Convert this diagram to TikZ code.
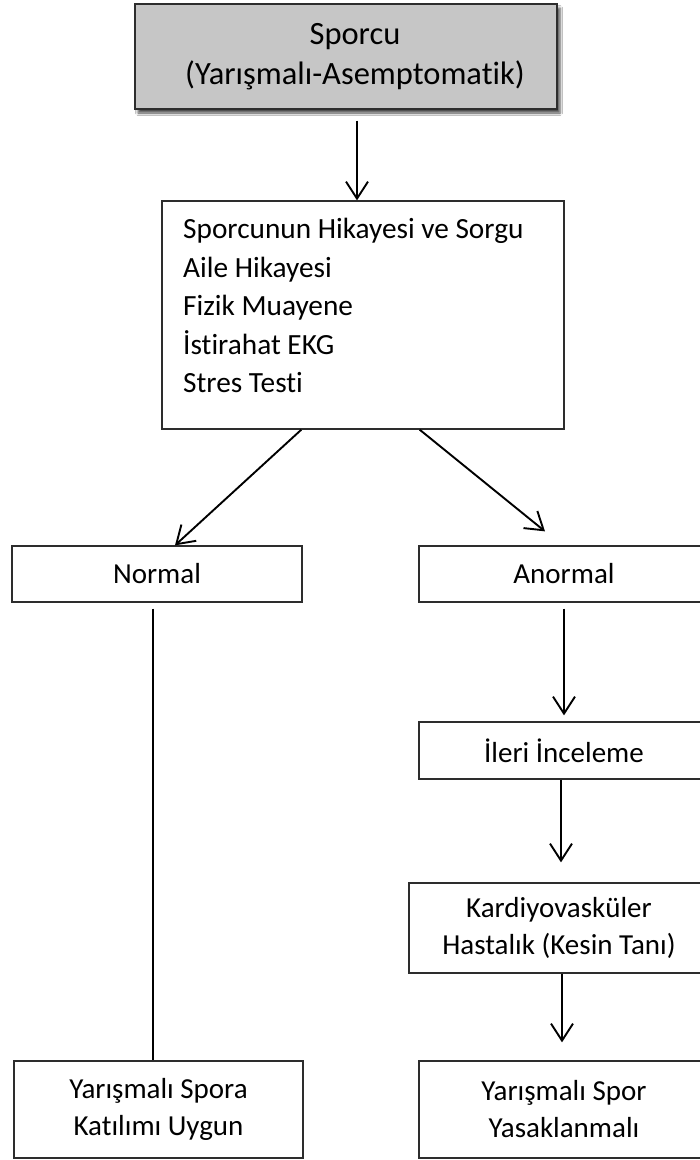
\documentclass[tikz,border=0pt]{standalone}
\usepackage{fontspec}
\setmainfont{Carlito}[Ligatures=NoCommon]
\usetikzlibrary{arrows.meta,shadows.blur}
\definecolor{headgray}{RGB}{198,198,198}
\definecolor{edgegray}{RGB}{45,45,45}
\tikzset{
  box/.style={draw=edgegray, line width=1.3pt, fill=white, rectangle,
    inner sep=0pt, align=center, font=\fontsize{29}{37}\selectfont},
  headbox/.style={box, fill=headgray,
    blur shadow={shadow xshift=3pt, shadow yshift=-4pt, shadow blur radius=2.5pt, shadow opacity=70}},
  arr/.style={line width=1.9pt, -{Straight Barb[length=17pt,width=22pt,line width=1.9pt]}},
  plain/.style={line width=1.9pt}
}
\begin{document}
\begin{tikzpicture}[x=1pt,y=-1pt]
  \clip (0,0) rectangle (700,1160);
  \fill[white] (0,0) rectangle (700,1160);

  % header box and its title
  \node[headbox, minimum width=422pt, minimum height=105pt] (sporcu) at (346,56.5) {};
  \node[inner sep=0pt, align=center, font=\fontsize{32.5}{40}\selectfont] (sporcutext) at (355,57)
    {Sporcu\\(Yarışmalı-Asemptomatik)};

  % screening box and its list
  \node[box, minimum width=402pt, minimum height=228pt] (info) at (363,315) {};
  \node[anchor=north west, inner sep=0pt, align=left,
        font=\fontsize{29.3}{38.5}\selectfont] (infotext) at (183,218)
    {Sporcunun Hikayesi ve Sorgu\\Aile Hikayesi\\Fizik Muayene\\İstirahat EKG\\Stres Testi};

  % outcomes
  \node[box, minimum width=290pt, minimum height=56pt] (normal) at (157,574) {Normal};
  \node[box, minimum width=290pt, minimum height=56pt] (anormal) at (564,574) {Anormal};
  \node[box, minimum width=290pt, minimum height=57pt] (ileri) at (564,750.5) {İleri İnceleme};
  \node[box, minimum width=300pt, minimum height=90pt] (kardiyo) at (559,928)
    {Kardiyovasküler\\Hastalık (Kesin Tanı)};
  \node[box, minimum width=289pt, minimum height=97pt] (uygun) at (158.5,1109.5)
    {Yarışmalı Spora\\Katılımı Uygun};
  \node[box, minimum width=290pt, minimum height=97pt] (yasak) at (564,1109.5)
    {Yarışmalı Spor\\Yasaklanmalı};

  % connectors
  \draw[arr] ([xshift=11pt,yshift=-11pt]sporcu.south) -- ([xshift=11pt]sporcu.south |- info.north);
  \draw[arr] ([xshift=140pt]info.south west) -- ([xshift=18pt]normal.north);
  \draw[arr] ([xshift=-145pt]info.south east) -- ([xshift=-19pt,yshift=14pt]anormal.north);
  \draw[plain] ([xshift=-4pt,yshift=-6pt]normal.south) -- ([xshift=-4pt]normal.south |- uygun.north);
  \draw[arr] ([yshift=-6pt]anormal.south) -- ([yshift=6pt]ileri.north);
  \draw[arr] ([xshift=-3pt]ileri.south) -- ([xshift=-3pt,yshift=20pt]ileri.south |- kardiyo.north);
  \draw[arr] ([xshift=3pt]kardiyo.south) -- ([xshift=-2pt,yshift=18pt]yasak.north);
\end{tikzpicture}
\end{document}
